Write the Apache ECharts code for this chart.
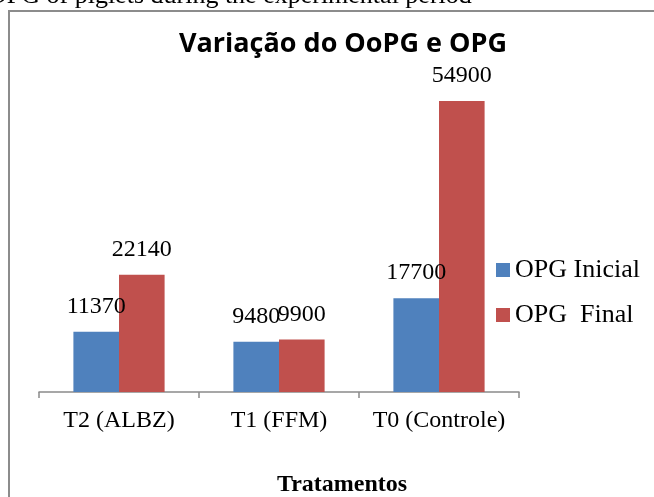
<!DOCTYPE html>
<html lang="pt">
<head>
    <meta charset="UTF-8">
    <title>Variação do OoPG e OPG</title>
    <script src="https://cdn.jsdelivr.net/npm/echarts@6/dist/echarts.min.js"></script>
    <style>
        html, body { margin: 0; padding: 0; background: #fff; }
        #main { width: 654px; height: 497px; }
    </style>
</head>
<body>
<div id="main"></div>
<script type="text/javascript">
    const categories = ['T2 (ALBZ)', 'T1 (FFM)', 'T0 (Controle)']
    const seriesNames = ['OPG Inicial', 'OPG  Final']
    const opgInicial = [11370, 9480, 17700]
    const opgFinal = [22140, 9900, 54900]

    const serif = '"Liberation Serif", "Times New Roman", serif'

    let chart = echarts.init(document.getElementById('main'))

    let labelStyle = {
        show: true,
        position: 'top',
        distance: 13,
        color: '#000',
        fontFamily: serif,
        fontSize: 24
    }

    let option = {
        animation: false,
        backgroundColor: '#fff',
        grid: {
            left: 39,
            right: 135,
            top: 74,
            bottom: 105
        },
        legend: {
            orient: 'vertical',
            left: 491,
            top: 252,
            itemWidth: 14,
            itemHeight: 14,
            itemGap: 19,
            icon: 'rect',
            textStyle: {
                fontFamily: serif,
                fontSize: 26,
                color: '#000'
            },
            data: seriesNames
        },
        xAxis: {
            type: 'category',
            data: categories,
            axisLine: {lineStyle: {color: '#8a8a8a', width: 1.5}},
            axisTick: {show: true, length: 6, lineStyle: {color: '#8a8a8a', width: 1.5}},
            axisLabel: {
                interval: 0,
                margin: 17,
                color: '#000',
                fontFamily: serif,
                fontSize: 24
            }
        },
        yAxis: {
            type: 'value',
            min: 0,
            max: 60000,
            show: false,
            splitLine: {show: false}
        },
        graphic: [
            {
                // frame of the chart area
                type: 'rect',
                shape: {x: 9, y: 11, width: 700, height: 520},
                style: {fill: 'none', stroke: '#8c8c8c', lineWidth: 2},
                silent: true
            },
            {
                // caption of the page, cut by the top edge
                type: 'text',
                x: -12,
                y: 9,
                style: {
                    text: 'OPG of piglets during the experimental period',
                    fontFamily: serif,
                    fontSize: 26,
                    fill: '#000',
                    align: 'left',
                    verticalAlign: 'bottom'
                }
            },
            {
                type: 'text',
                x: 343,
                y: 44,
                style: {
                    text: 'Variação do OoPG e OPG',
                    fontFamily: '"Open Sans", sans-serif',
                    fontWeight: 'bold',
                    fontSize: 27,
                    fill: '#000',
                    align: 'center',
                    verticalAlign: 'middle'
                }
            },
            {
                type: 'text',
                x: 342,
                y: 485,
                style: {
                    text: 'Tratamentos',
                    fontFamily: serif,
                    fontWeight: 'bold',
                    fontSize: 24,
                    fill: '#000',
                    align: 'center',
                    verticalAlign: 'middle'
                }
            }
        ],
        series: [
            {
                name: seriesNames[0],
                type: 'bar',
                data: opgInicial,
                barGap: 0,
                barCategoryGap: '43%',
                itemStyle: {color: '#4f81bd'},
                label: labelStyle
            },
            {
                name: seriesNames[1],
                type: 'bar',
                data: opgFinal,
                barGap: 0,
                barCategoryGap: '43%',
                itemStyle: {color: '#c0504d'},
                label: labelStyle
            }
        ]
    }
    chart.setOption(option)
</script>
</body>
</html>
